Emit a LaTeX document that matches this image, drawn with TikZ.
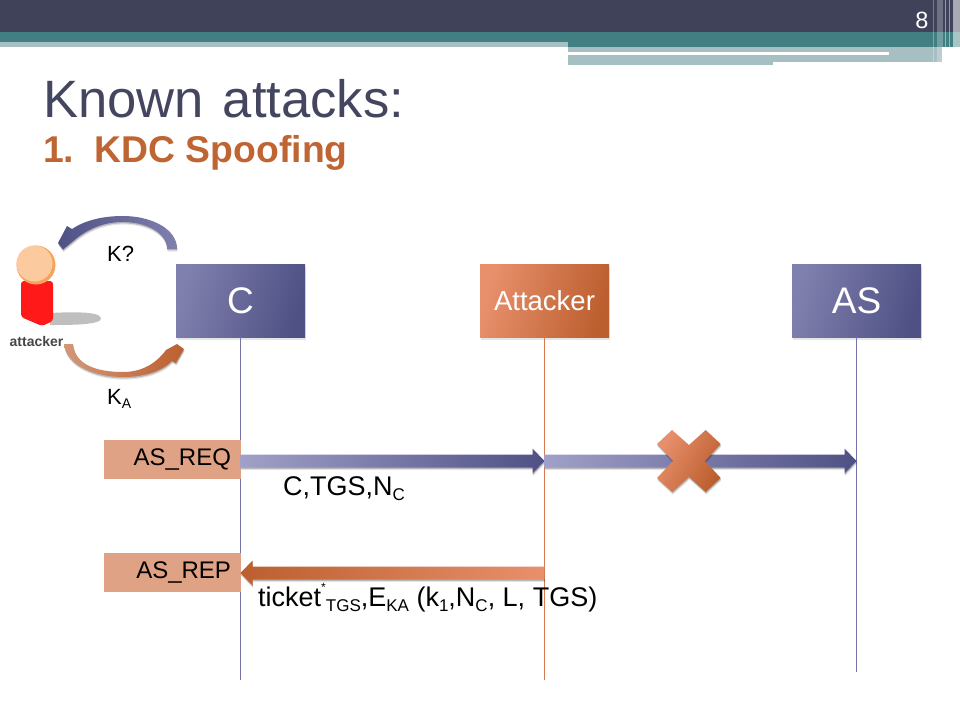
\documentclass[tikz,border=0pt]{standalone}
\usepackage{fontspec}
\setmainfont{Liberation Sans}
\usetikzlibrary{calc,shadows}
\newcommand\fs[1]{\fontsize{#1}{#1}\selectfont}
\newcommand\lowt[2]{\raisebox{-.2em}{\fs{#1}#2}}
\newcommand\blockarrow[5]{%
  \path[left color=#4,right color=#5,softshadow]
    ($(#1)+(0,-6.5)$) -- ($(#2)+(#3*-12,-6.5)$) -- ($(#2)+(#3*-12,-12.5)$) -- (#2)
    -- ($(#2)+(#3*-12,12.5)$) -- ($(#2)+(#3*-12,6.5)$) -- ($(#1)+(0,6.5)$) -- cycle;}
\definecolor{banner}{HTML}{40425A}
\definecolor{teal1}{HTML}{417F82}
\definecolor{pale}{HTML}{A5BFC3}
\definecolor{titleink}{HTML}{44465F}
\definecolor{rust}{HTML}{BF6534}
\definecolor{purpA}{HTML}{8080AE}
\definecolor{purpB}{HTML}{4F5185}
\definecolor{purpC}{HTML}{A0A0C8}
\definecolor{orA}{HTML}{E8906C}
\definecolor{orB}{HTML}{BC5F2F}
\definecolor{tagfill}{HTML}{E0A285}
\definecolor{lifeC}{HTML}{7373A8}
\definecolor{lifeA}{HTML}{D87A50}
\definecolor{headlight}{HTML}{FBCB9F}
\definecolor{headdark}{HTML}{F5A45C}
\tikzset{
  softshadow/.style={drop shadow={shadow xshift=.6pt,shadow yshift=-2.6pt,opacity=.1,fill=black},
                     drop shadow={shadow xshift=.4pt,shadow yshift=-1.4pt,opacity=.2,fill=black}},
  actor/.style={minimum width=129pt,minimum height=73pt,inner sep=0pt,text=white,softshadow},
  actorblue/.style={actor,left color=purpA,right color=purpB,shading angle=75},
  actororange/.style={actor,left color=orA,right color=orB,shading angle=75},
  tagbox/.style={fill=tagfill,minimum height=39pt,inner xsep=10pt,inner ysep=0pt,text width=117pt,align=right,font=\fs{24}},
  lbl/.style={inner sep=0pt,anchor=base west,text=black},
  life/.style={line width=.9pt}
}
\begin{document}
\begin{tikzpicture}[x=1pt,y=-1pt]
\useasboundingbox (0,0) rectangle (960,720);
% banner
\fill[banner] (0,0) rectangle (960,32);
\fill[teal1] (0,32) rectangle (960,47);
\fill[pale] (0,42) rectangle (568,47);
\fill[pale] (568,47) rectangle (942,62);
\fill[pale] (568,55) rectangle (773,65);
\fill[white] (568,52) rectangle (889,54.5);
\fill[white,opacity=.3] (932.5,0) rectangle (933.5,62);
\fill[white,opacity=.25] (937,0) rectangle (943,62);
\fill[white,opacity=.45] (945,0) rectangle (946,65);
\fill[white,opacity=.45] (949,0) rectangle (950,65);
\fill[white,opacity=.55] (953,0) rectangle (960,65);
\node[inner sep=0pt,text=white,font=\fs{23.5}] (pagenum) at (922,20) {8};
% title
\node[lbl,text=titleink,font=\fs{52.6}] (title) at (43,117) {Known\hspace{.08em} attacks:};
\node[lbl,text=rust,font=\bfseries\fs{37.3}] (subtitle) at (43,162) {1.\hspace{.18em} KDC Spoofing};
% lifelines
\node[actorblue,font=\fs{37}] (c) at (240.5,300.5) {C};
\node[actororange,font=\fs{27.5}] (att) at (544.5,300.5) {Attacker};
\node[actorblue,font=\fs{37}] (as) at (856.5,300.5) {AS};
\coordinate (cend) at (c.center |- 0,680);
\coordinate (aend) at (att.center |- 0,680);
\coordinate (send) at (as.center |- 0,672);
\draw[life,lifeC] (c.south) -- (cend);
\draw[life,lifeA] (att.south) -- (aend);
\draw[life,lifeC] (as.south) -- (send);
% tags
\node[tagbox] (req) at (172.5,459.5) {\raisebox{-2pt}{AS\_REQ}};
\node[tagbox] (rep) at (172.5,572.5) {\raisebox{-2pt}{AS\_REP}};
% messages
\coordinate (reqC) at (c.center |- 0,461);
\coordinate (reqA) at (att.center |- 0,461);
\coordinate (reqS) at (as.center |- 0,461);
\coordinate (repA) at (att.center |- 0,573);
\coordinate (repC) at (c.center |- 0,573);
\blockarrow{reqC}{reqA}{1}{purpC}{purpB}
\blockarrow{reqA}{reqS}{1}{purpC}{purpB}
\blockarrow{repA}{repC}{-1}{orB}{orA}
% cross
\coordinate (xc) at (689,461);
\path[left color=orA,right color=orB,shading angle=60,softshadow]
  ($(xc)+(0,-16)$) -- ($(xc)+(16.7,-31)$) -- ($(xc)+(31.7,-17)$) -- ($(xc)+(16,0)$)
  -- ($(xc)+(31.7,17)$) -- ($(xc)+(16.7,31)$) -- ($(xc)+(0,16)$) -- ($(xc)+(-16.7,31)$)
  -- ($(xc)+(-32,17)$) -- ($(xc)+(-16,0)$) -- ($(xc)+(-32,-17)$) -- ($(xc)+(-17,-31)$) -- cycle;
% message text
\node[lbl,font=\fs{27}] (m1) at (283,495) {C,TGS,N\lowt{17}{C}};
\node[lbl,font=\fs{27}] (m2) at (258,606) {ticket\raisebox{.55em}{\fs{12}*}\lowt{17}{TGS},E\lowt{17}{KA} (k\lowt{17}{1},N\lowt{17}{C}, L, TGS)};
% attacker figure
\fill[gray!50] (50,313) .. controls (70,312) and (101,311) .. (101,318.5) .. controls (101,325) and (70,325) .. (50,325) -- cycle;
\path[fill=red!90!white,rounded corners=3pt] (21,281) -- (53,281) -- (53,321) -- (42,326) -- (21,317) -- cycle;
\fill[headdark] (36,265) circle (19.5);
\fill[headlight] (34.5,263.5) circle (18);
\node[inner sep=0pt,anchor=base,text=black!72,font=\bfseries\fs{14}] (figlabel) at (36.5,346) {attacker};
% curved arrows
\path[left color=purpB,right color=purpA,softshadow]
  (177,249) .. controls (177,228) and (150,216) .. (123,216) .. controls (101,216) and (84,221) .. (72,229)
  -- (67,226) -- (58,243) -- (63,249.5) -- (77,238)
  .. controls (90,228) and (105,222) .. (123,222) .. controls (145,222) and (167,232) .. (167,249) -- cycle;
\path[left color=orB!65!white,right color=orB,softshadow]
  (64,344) .. controls (66,365) and (95,377) .. (123,377) .. controls (145,377) and (162,371) .. (172,361)
  -- (176,363) -- (184,349) -- (177,344) -- (166,350)
  .. controls (155,365) and (140,372) .. (123,372) .. controls (97,372) and (75,365) .. (73,344) -- cycle;
\node[lbl,font=\fs{22}] (kq) at (107,261) {K?};
\node[lbl,font=\fs{22}] (ka) at (107,404) {K\lowt{14}{A}};
\end{tikzpicture}
\end{document}
